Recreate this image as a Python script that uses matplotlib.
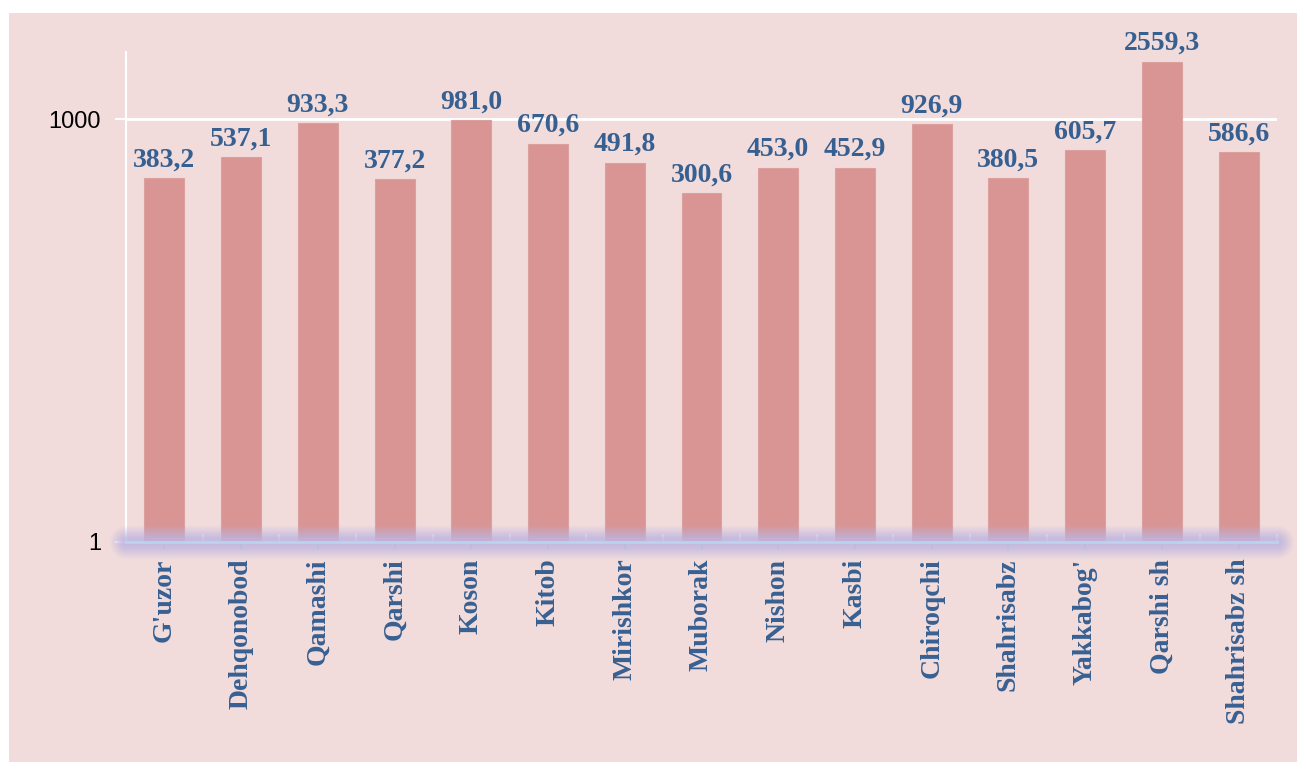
import matplotlib
matplotlib.use("Agg")
import matplotlib.pyplot as plt
from matplotlib.patches import Rectangle
from matplotlib.ticker import FixedLocator, NullFormatter

categories = ["G'uzor", "Dehqonobod", "Qamashi", "Qarshi", "Koson", "Kitob",
              "Mirishkor", "Muborak", "Nishon", "Kasbi", "Chiroqchi",
              "Shahrisabz", "Yakkabog'", "Qarshi sh", "Shahrisabz sh"]
values = [383.2, 537.1, 933.3, 377.2, 981.0, 670.6, 491.8, 300.6, 453.0,
          452.9, 926.9, 380.5, 605.7, 2559.3, 586.6]
ytick_values = [1, 1000]
ytick_labels = ["1", "1000"]

W, H = 1306, 774
DPI = 100
fig = plt.figure(figsize=(W / DPI, H / DPI), dpi=DPI, facecolor="white")

bg = "#F2DCDB"
fig.patches.append(Rectangle((9 / W, 1 - 762 / H), (1297 - 9) / W, (762 - 13) / H,
                             transform=fig.transFigure, facecolor=bg,
                             edgecolor="none", zorder=-10))

left, right = 126 / W, 1277 / W
bottom, top = 1 - 542 / H, 1 - 52 / H
ax = fig.add_axes([left, bottom, right - left, top - bottom])
ax.set_facecolor("none")
ax.set_zorder(1)

serif = ["Liberation Serif", "DejaVu Serif"]
blue = "#376092"

x = list(range(len(categories)))
ax.bar(x, values, width=0.52, color="#D99594", edgecolor="#DCA09F",
       linewidth=0.8, zorder=3)

ax.set_yscale("log")
ax.set_ylim(1, 3000)
ax.set_xlim(-0.5, len(categories) - 0.5)

ax.yaxis.set_major_locator(FixedLocator(ytick_values))
ax.yaxis.set_minor_locator(FixedLocator([]))
ax.set_yticks(ytick_values)
ax.set_yticklabels(ytick_labels, fontsize=17, fontfamily=["Liberation Sans", "DejaVu Sans"],
                   color="black")
ax.tick_params(axis="y", which="major", direction="out", length=8, color="white",
               width=1.5, pad=10)

# gridline at 1000
ax.axhline(1000, color="white", linewidth=2, zorder=2)

for s in ["top", "right"]:
    ax.spines[s].set_visible(False)
ax.spines["left"].set_color("white")
ax.spines["left"].set_linewidth(1.5)
ax.spines["bottom"].set_visible(False)

# glowing x axis
x0, x1 = -0.5, len(categories) - 0.5
for lw, a in [(24, 0.10), (21, 0.14), (18, 0.18), (15, 0.22), (12, 0.26), (9, 0.3), (6, 0.3)]:
    ax.plot([x0, x1], [1, 1], color="#BFB6E2", linewidth=lw, alpha=a,
            solid_capstyle="round", clip_on=False, zorder=4)
ax.plot([x0, x1], [1, 1], color="#B9D3EE", linewidth=2, clip_on=False, zorder=5)

ax.set_xticks(x)
ax.set_xticklabels(categories, rotation=90, fontsize=20, fontweight="bold",
                   fontfamily=serif, color=blue, va="top", ha="center")
ax.tick_params(axis="x", which="major", direction="out", length=5,
               color="#B9D3EE", width=1.5, pad=7)
ax.set_xticks([i - 0.5 for i in range(len(categories) + 1)], minor=True)
ax.tick_params(axis="x", which="minor", direction="in", length=6,
               color="white", width=1.5)
ax.xaxis.set_minor_formatter(NullFormatter())

for xi, v in zip(x, values):
    ax.annotate(f"{v:.1f}".replace(".", ","), (xi, v), xytext=(0, 4),
                textcoords="offset points", ha="center", va="bottom",
                fontsize=20, fontweight="bold", fontfamily=serif, color=blue,
                zorder=6, annotation_clip=False)

fig.savefig("out.png", dpi=DPI, facecolor="white")
